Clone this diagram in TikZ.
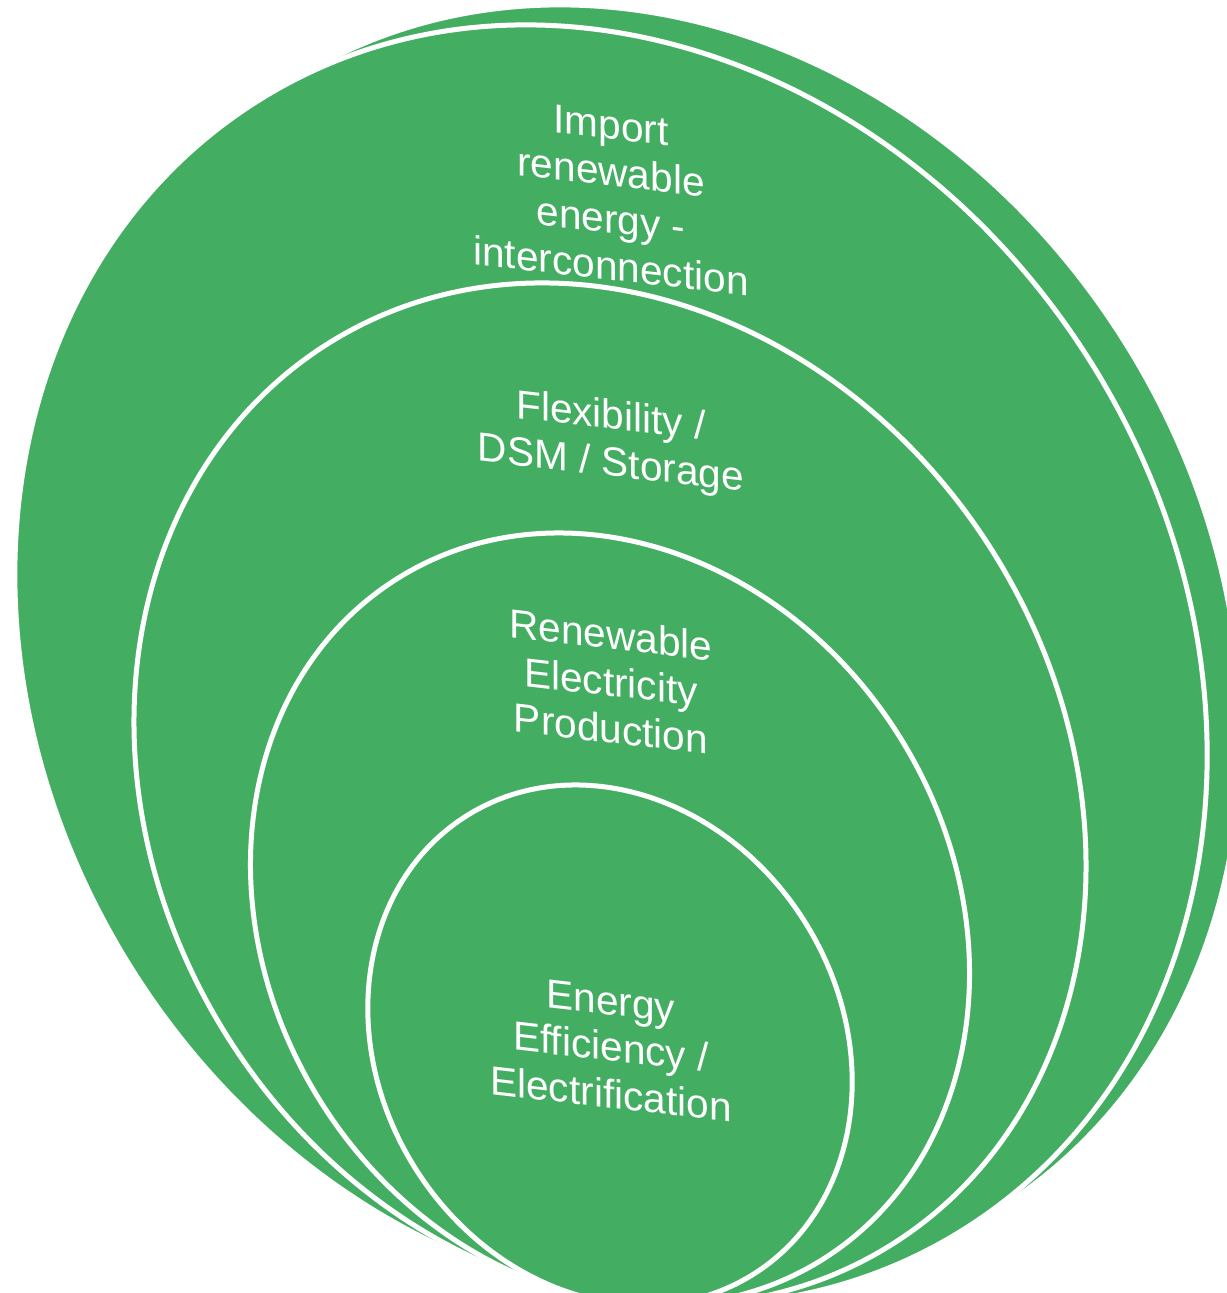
\documentclass[tikz,border=0pt]{standalone}
\usepackage{fontspec}
\setmainfont{Liberation Sans}
\definecolor{ringgreen}{RGB}{67,174,98}
\begin{document}
\begin{tikzpicture}[
  ring/.style={fill=ringgreen, draw=white, line width=0.05cm},
  lbl/.style={text=white, font=\fontsize{11.55pt}{13.4pt}\selectfont, inner sep=0pt, anchor=base, yslant=-0.115}
]
\useasboundingbox (0,0) rectangle (12.27,12.93);
\clip (0,0) rectangle (12.27,12.93);
% outer (offset) ring and nested rings
\path[ring, rotate around={31.7:(6.45,6.48)}] (6.45,6.48) ellipse [x radius=5.674cm, y radius=6.656cm];
\path[ring, rotate around={31.7:(6.11,6.28)}] (6.11,6.28) ellipse [x radius=5.674cm, y radius=6.656cm];
\path[ring, rotate around={31.7:(6.10,4.99)}] (6.10,4.99) ellipse [x radius=4.531cm, y radius=5.314cm];
\path[ring, rotate around={31.7:(6.10,3.74)}] (6.10,3.74) ellipse [x radius=3.422cm, y radius=4.014cm];
\path[ring, rotate around={31.7:(6.10,2.48)}] (6.10,2.48) ellipse [x radius=2.305cm, y radius=2.704cm];
% labels
\node[lbl] (a1) at (6.11,11.54) {Import};
\node[lbl] (a2) at (6.11,11.07) {renewable};
\node[lbl] (a3) at (6.11,10.60) {energy -};
\node[lbl] (a4) at (6.11,10.13) {interconnection};
\node[lbl] (b1) at (6.11,8.64) {Flexibility /};
\node[lbl] (b2) at (6.11,8.17) {DSM / Storage};
\node[lbl] (c1) at (6.11,6.44) {Renewable};
\node[lbl] (c2) at (6.11,5.97) {Electricity};
\node[lbl] (c3) at (6.11,5.50) {Production};
\node[lbl] (d1) at (6.11,2.78) {Energy};
\node[lbl] (d2) at (6.11,2.32) {Efficiency /};
\node[lbl] (d3) at (6.11,1.85) {Electrification};
\end{tikzpicture}
\end{document}
